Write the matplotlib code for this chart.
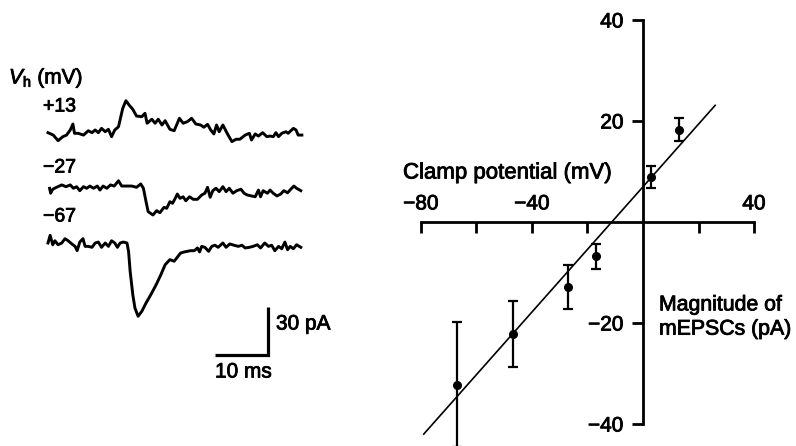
import matplotlib.pyplot as plt
import matplotlib.patheffects as pe

plt.rcParams['font.family'] = ['Liberation Sans', 'DejaVu Sans']
plt.rcParams['mathtext.fontset'] = 'custom'
plt.rcParams['mathtext.rm'] = 'Liberation Sans'
plt.rcParams['mathtext.it'] = 'Liberation Sans:italic'

# mEPSC traces (time in ms, current in pA)
t_p13 = [0.0, 1.0, 1.9, 2.8, 3.5, 4.2, 4.7, 5.0, 5.7, 6.7, 7.6, 8.3, 8.9, 9.5, 10.1,
         10.8, 11.4, 12.0, 12.6, 13.3, 14.1, 14.7, 15.3, 16.0, 16.7, 17.7, 18.3, 18.7,
         19.6, 20.2, 20.8, 21.5, 22.1, 23.0, 23.8, 24.8, 25.5, 26.3, 27.1, 27.9, 28.8,
         29.4, 30.1, 30.7, 31.3, 31.8, 32.3, 33.0, 33.8, 34.7, 35.5, 36.2, 37.2, 38.0,
         38.4, 39.1, 39.7, 40.5, 41.3, 41.9, 42.5, 43.0, 43.5, 44.1, 44.9, 45.3, 46.3,
         46.8, 47.2, 47.9]
i_p13 = [0.2, -1.3, -4.8, -2.3, -1.3, 1.9, 5.6, -0.2, -0.2, -1.3, 1.4, 0.2, 1.9, 0.2, 2.9,
         0.8, 2.3, -2.3, 1.9, 3.9, 15.4, 20.2, 17.5, 14.8, 10.6, 10.2, 12.3, 6.1,
         8.6, 6.1, 8.6, 5.0, 7.7, 2.3, 1.4, 9.2, 6.1, 7.1, 9.2, 5.6, 5.0,
         3.6, 5.4, 1.9, -0.6, 5.0, 0.8, 5.0, -0.2, -5.4, -3.9, -3.9, -1.3, -0.2,
         -4.4, -0.6, -1.9, 0.2, -2.3, -1.9, -2.3, 0.2, -2.3, -0.2, 0.8, -0.2, 2.9,
         1.9, -1.3, -1.3]

t_m27 = [0.3, 0.5, 0.9, 1.6, 2.6, 3.4, 4.2, 4.8, 5.4, 6.0, 6.7, 7.3, 7.9, 8.6, 9.3,
         9.8, 10.4, 11.1, 11.8, 12.5, 13.3, 13.9, 14.9, 15.8, 16.7, 17.5, 18.0, 18.5,
         18.9, 19.8, 20.5, 21.1, 21.9, 22.4, 23.0, 23.5, 24.0, 24.4, 24.9, 25.5, 26.0,
         26.7, 27.4, 28.2, 29.0, 29.6, 30.1, 30.6, 31.1, 31.7, 32.3, 33.0, 33.6, 34.2,
         34.9, 35.6, 36.4, 37.0, 37.6, 38.4, 39.1, 39.7, 40.1, 40.6, 41.4, 41.9, 42.5,
         43.2, 43.9, 44.5, 45.2, 45.8, 46.4, 46.9, 47.7]
i_m27 = [-0.8, -3.9, -1.4, -0.2, 1.3, 0.2, 1.3, -0.8, 0.2, -2.3, 0.2, -0.8, 0.6, -0.8, 0.6,
         -1.9, 0.6, -0.8, 1.3, 0.6, 3.9, 0.6, 0.6, 0.6, -0.2, 1.9, -0.8, -9.2,
         -15.4, -17.5, -14.8, -16.1, -12.7, -13.3, -9.2, -10.2, -7.1, -4.4, -7.1, -6.1, -8.6,
         -6.1, -7.7, -7.7, -5.0, -3.9, -0.2, -6.4, -2.3, -0.8, -2.9, 0.2, -2.9, -0.8,
         -3.9, -2.3, -1.4, -3.9, -5.0, -5.6, -6.1, -1.9, -6.1, -2.3, -3.9, -1.9, -3.9,
         -5.6, -4.4, -2.3, -3.6, -1.4, 0.6, -0.8, -2.3]

t_m67 = [0.0, 0.4, 0.9, 1.3, 1.9, 2.6, 3.2, 3.8, 4.5, 5.1, 5.5, 6.0, 6.6, 7.0, 7.6,
         8.3, 8.9, 9.5, 10.1, 10.8, 11.4, 12.0, 12.6, 13.1, 13.6, 14.2, 14.9, 15.2,
         15.5, 16.0, 16.4, 17.0, 17.7, 18.5, 19.4, 20.4, 21.3, 22.1, 23.0, 23.8, 24.4,
         25.0, 25.7, 26.3, 26.9, 27.6, 28.2, 28.6, 29.0, 29.6, 30.3, 30.9, 31.5, 32.1,
         33.0, 33.6, 34.3, 35.1, 35.9, 36.6, 37.2, 38.0, 38.7, 39.5, 40.1, 40.9, 41.6,
         42.2, 42.8, 43.5, 44.1, 44.7, 45.2, 45.7, 46.3, 46.9, 47.7]
i_m67 = [0.0, 4.8, -1.1, 1.4, -1.1, 0.0, 2.7, 1.4, -0.6, -2.1, -4.8, 0.6, 2.7, -2.1, -2.1,
         -2.7, 0.0, 0.6, -2.7, 0.0, -2.1, 1.4, 0.0, -2.7, 0.0, 0.6, 0.0, -5.2,
         -17.7, -32.3, -40.6, -45.8, -42.7, -37.5, -32.3, -26.1, -19.8, -13.6, -10.4, -11.4, -8.9,
         -6.3, -5.6, -5.2, -4.8, -4.8, -3.1, -5.6, -2.1, -2.7, -5.2, -2.1, -1.4, -2.7,
         0.0, -2.7, -0.6, -1.4, -2.1, -1.4, -3.1, -2.7, -2.1, -1.1, -3.1, 0.0, -2.1,
         -1.4, -4.8, -2.1, -3.6, 0.6, -4.2, -2.1, -3.6, -1.1, -2.7]

trace_labels = ['+13', '\u221227', '\u221267']

# I-V relation
clamp_mv = [-67, -47, -27, -17, 3, 13]
mepsc_pa = [-32.2, -22.2, -12.9, -6.8, 8.9, 18.3]
mepsc_err = [12.4, 6.5, 4.3, 2.5, 2.2, 2.2]
fit_mv = [-79, 26]
fit_pa = [-42.0, 23.1]

x_ticks = [-80, -60, -40, -20, 20, 40]
x_labeled = {-80: '\u221280', -40: '\u221240', 40: '40'}
y_ticks = [-40, -20, 20, 40]
y_tick_labels = ['\u221240', '\u221220', '20', '40']

W, H = 796, 446
fig = plt.figure(figsize=(W / 100, H / 100), dpi=100)

# scanned print: slightly heavier glyphs
heavy = [pe.withStroke(linewidth=0.6, foreground='black')]


def px_axes(left, top, right, bottom):
    return fig.add_axes([left / W, 1 - bottom / H, (right - left) / W, (bottom - top) / H])


def px_text(x, y, s, **kw):
    fig.text(x / W, 1 - y / H, s, path_effects=heavy, **kw)


# left panel: traces
ax_tr = px_axes(42.7, 93, 313, 365)
ax_tr.set_xlim(-1, 50)
ax_tr.set_ylim(-145, 25)
ax_tr.axis('off')

offsets = [0, -33.75, -68.75]
for (t, cur), off in zip([(t_p13, i_p13), (t_m27, i_m27), (t_m67, i_m67)], offsets):
    ax_tr.plot(t, [c + off for c in cur], color='black', lw=2.1,
               solid_joinstyle='round')

# scale bar 10 ms / 30 pA
bar_t, bar_y = 41.5, -138.75
ax_tr.plot([bar_t - 10, bar_t, bar_t], [bar_y, bar_y, bar_y + 30], color='black',
           lw=2.3, solid_joinstyle='miter', solid_capstyle='butt')

px_text(9, 78, r'$V_\mathrm{h}$ (mV)', fontsize=15, va='center', ha='left')
for lab, y in zip(trace_labels, [107, 168, 217]):
    px_text(43, y, lab, fontsize=14, va='center', ha='left')
px_text(276, 324, '30 pA', fontsize=15, va='center', ha='left')
px_text(215, 372, '10 ms', fontsize=15, va='center', ha='left')

# right panel: I-V plot
ax = px_axes(407.1, 9.9, 767.9, 449.25)
ax.set_xlim(-85, 45)
ax.set_ylim(-45, 42)
ax.patch.set_visible(False)
for s in ['top', 'right']:
    ax.spines[s].set_visible(False)
ax.spines['left'].set_position(('data', 0))
ax.spines['bottom'].set_position(('data', 0))
ax.spines['left'].set_bounds(-40, 40)
ax.spines['bottom'].set_bounds(-80, 40)
for s in ['left', 'bottom']:
    ax.spines[s].set_linewidth(2.0)

ax.set_xticks(x_ticks)
ax.set_xticklabels([''] * len(x_ticks))
ax.set_yticks(y_ticks)
ax.set_yticklabels(y_tick_labels)
ax.tick_params(axis='both', direction='out', length=8, width=2.0, labelsize=15)
ax.tick_params(axis='y', pad=6)
for lab in ax.get_yticklabels():
    lab.set_path_effects(heavy)
for v, lab in x_labeled.items():
    ax.annotate(lab, (v, 0), xytext=(0, 13), textcoords='offset points',
                ha='center', va='center', fontsize=15, path_effects=heavy)

ax.plot(fit_mv, fit_pa, color='black', lw=1.2)
ax.errorbar(clamp_mv, mepsc_pa, yerr=mepsc_err, fmt='o', color='black',
            markersize=5.5, elinewidth=1.6, capsize=3.6, capthick=1.6, clip_on=False)

px_text(403, 173, 'Clamp potential (mV)', fontsize=16, va='center', ha='left')
px_text(659, 317, 'Magnitude of\nmEPSCs (pA)', fontsize=15.3, va='center', ha='left',
        linespacing=1.35)

fig.savefig('out.png', dpi=100)
